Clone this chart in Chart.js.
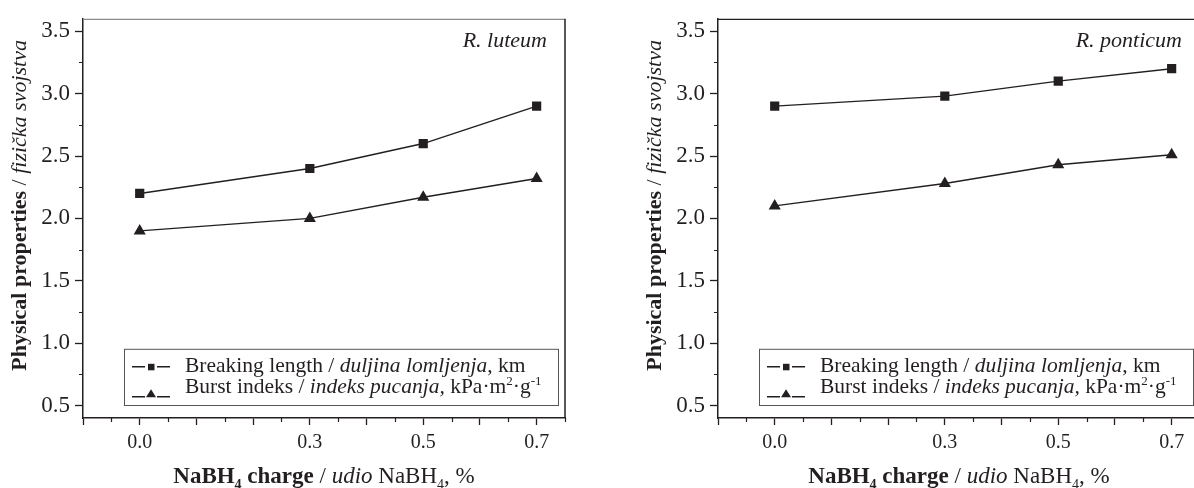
<!DOCTYPE html>
<html lang="en">
<head>
<meta charset="UTF-8">
<title>NaBH4 charge / physical properties</title>
<script src="https://cdn.jsdelivr.net/npm/chart.js"></script>
<style>
    html, body { margin: 0; padding: 0; background: #fff; overflow: hidden; }
    body { width: 1194px; height: 488px; position: relative; }
    .panel { position: absolute; top: 0; width: 600px; height: 488px; }
    #p1 { left: 0; }
    #p2 { left: 635px; }
</style>
</head>
<body>
<div class="panel" id="p1"><canvas id="luteumChart" width="600" height="488"></canvas></div>
<div class="panel" id="p2"><canvas id="ponticumChart" width="600" height="488"></canvas></div>
<script>
    // data
    const charge = [0.0, 0.3, 0.5, 0.7];
    const luteumBreaking = [2.2, 2.4, 2.6, 2.9];
    const luteumBurst = [1.9, 2.0, 2.17, 2.32];
    const ponticumBreaking = [2.9, 2.98, 3.1, 3.2];
    const ponticumBurst = [2.1, 2.28, 2.43, 2.51];

    // axis ticks
    const xMajorTicks = [-0.1, 0.0, 0.1, 0.2, 0.3, 0.4, 0.5, 0.6, 0.7];
    const xLabelled = [0.0, 0.3, 0.5, 0.7];
    const yMajorTicks = [0.5, 1.0, 1.5, 2.0, 2.5, 3.0, 3.5];

    const FONT = '"Liberation Serif", "Times New Roman", serif';
    const INK = '#231f20';

    function fontOf(p, size) {
        const s = (p.sub || p.sup) ? Math.round(size * 0.62) : size;
        return (p.i ? 'italic ' : '') + (p.b ? 'bold ' : '') + s + 'px ' + FONT;
    }

    // draws text made of several styled pieces
    function drawRich(ctx, parts, x, y, size, align) {
        let w = 0;
        parts.forEach(p => { ctx.font = fontOf(p, size); w += ctx.measureText(p.t).width; });
        let cx = align === 'center' ? x - w / 2 : x;
        ctx.textAlign = 'left';
        parts.forEach(p => {
            ctx.font = fontOf(p, size);
            const dy = p.sub ? size * 0.28 : (p.sup ? -size * 0.36 : 0);
            ctx.fillText(p.t, cx, y + dy);
            cx += ctx.measureText(p.t).width;
        });
    }

    function midpoints(arr) {
        const out = [];
        for (let i = 0; i < arr.length - 1; i++) out.push((arr[i] + arr[i + 1]) / 2);
        return out;
    }

    const legendRows = [
        [{t: 'Breaking length / '}, {t: 'duljina lomljenja', i: 1}, {t: ', km'}],
        [{t: 'Burst indeks / '}, {t: 'indeks pucanja,', i: 1}, {t: ' kPa\u00b7m'}, {t: '2', sup: 1}, {t: '\u00b7g'}, {t: '-1', sup: 1}]
    ];
    const xTitle = [{t: 'NaBH', b: 1}, {t: '4', b: 1, sub: 1}, {t: ' charge', b: 1}, {t: ' / '}, {t: 'udio', i: 1}, {t: ' NaBH'}, {t: '4', sub: 1}, {t: ', %'}];
    const yTitle = [{t: 'Physical properties', b: 1}, {t: ' / '}, {t: 'fizi\u010dka svojstva', i: 1}];

    const decorPlugin = {
        id: 'decor',
        afterDraw(chart, args, opts) {
            const ctx = chart.ctx;
            const a = chart.chartArea;
            const xs = chart.scales.x, ys = chart.scales.y;
            ctx.save();

            // top and right frame
            ctx.strokeStyle = opts.topColor || INK;
            ctx.lineWidth = 1.2;
            ctx.beginPath();
            ctx.moveTo(a.left, a.top + 0.5);
            ctx.lineTo(a.right, a.top + 0.5);
            ctx.stroke();
            ctx.strokeStyle = INK;
            ctx.lineWidth = 1.5;
            ctx.beginPath();
            ctx.moveTo(a.right, a.top);
            ctx.lineTo(a.right, a.bottom);
            ctx.stroke();

            // minor ticks
            ctx.lineWidth = 1.2;
            ctx.beginPath();
            midpoints(xMajorTicks).concat([0.75]).forEach(v => {
                const px = Math.round(xs.getPixelForValue(v)) + 0.5;
                ctx.moveTo(px, a.bottom);
                ctx.lineTo(px, a.bottom + 4);
            });
            midpoints(yMajorTicks).forEach(v => {
                const py = Math.round(ys.getPixelForValue(v)) + 0.5;
                ctx.moveTo(a.left, py);
                ctx.lineTo(a.left - 4, py);
            });
            ctx.stroke();

            ctx.fillStyle = INK;
            ctx.textBaseline = 'alphabetic';

            // species label
            ctx.font = 'italic 22px ' + FONT;
            ctx.textAlign = 'right';
            ctx.fillText(opts.species, a.right - 18, a.top + 28);

            // legend box
            const bx = a.left + 41, by = a.top + 330;
            const bw = a.right - 7 - bx, bh = a.bottom - 13 - by;
            ctx.strokeStyle = '#555';
            ctx.lineWidth = 1;
            ctx.strokeRect(bx + 0.5, by + 0.5, bw, bh);

            const rowBase = [by + 23, by + 44];
            legendRows.forEach((row, i) => {
                const sy = i === 0 ? rowBase[i] - 5 : rowBase[i] + 1;
                ctx.strokeStyle = INK;
                ctx.lineWidth = 1.4;
                ctx.beginPath();
                ctx.moveTo(a.left + 49, sy + (i ? 3 : 0));
                ctx.lineTo(a.left + 62, sy + (i ? 3 : 0));
                ctx.moveTo(a.left + 74, sy + (i ? 3 : 0));
                ctx.lineTo(a.left + 87, sy + (i ? 3 : 0));
                ctx.stroke();
                ctx.beginPath();
                if (i === 0) {
                    ctx.rect(a.left + 65, sy - 3, 6.5, 6.5);
                } else {
                    ctx.moveTo(a.left + 68, sy - 4.5);
                    ctx.lineTo(a.left + 73, sy + 3.5);
                    ctx.lineTo(a.left + 63, sy + 3.5);
                    ctx.closePath();
                }
                ctx.fill();
                drawRich(ctx, row, a.left + 102, rowBase[i], 21.5, 'left');
            });

            // axis titles
            drawRich(ctx, xTitle, (a.left + a.right) / 2, 483, 23, 'center');
            ctx.save();
            ctx.translate(20, (a.top + a.bottom) / 2 - 13);
            ctx.rotate(-Math.PI / 2);
            ctx.textBaseline = 'middle';
            drawRich(ctx, yTitle, 0, 0, 22, 'center');
            ctx.restore();

            ctx.restore();
        }
    };

    function makePanel(canvasId, breaking, burst, species, topColor) {
        const toPoints = arr => charge.map((c, i) => ({x: c, y: arr[i]}));
        return new Chart(document.getElementById(canvasId), {
            type: 'line',
            data: {
                datasets: [{
                    label: 'Breaking length / duljina lomljenja, km',
                    data: toPoints(breaking),
                    borderColor: INK,
                    backgroundColor: INK,
                    borderWidth: 1.4,
                    pointStyle: 'rect',
                    pointRadius: 6.5,
                    pointBorderWidth: 0,
                    tension: 0
                }, {
                    label: 'Burst indeks / indeks pucanja, kPa·m²·g⁻¹',
                    data: toPoints(burst),
                    borderColor: INK,
                    backgroundColor: INK,
                    borderWidth: 1.4,
                    pointStyle: 'triangle',
                    pointRadius: 7,
                    pointBorderWidth: 0,
                    tension: 0
                }]
            },
            options: {
                responsive: false,
                animation: false,
                devicePixelRatio: 1,
                layout: { padding: { top: 14, right: 35, left: 0, bottom: 0 } },
                plugins: {
                    legend: { display: false },
                    tooltip: { enabled: false },
                    decor: { species: species, topColor: topColor }
                },
                scales: {
                    x: {
                        type: 'linear',
                        min: -0.1,
                        max: 0.75,
                        afterBuildTicks: s => { s.ticks = xMajorTicks.map(v => ({value: v})); },
                        afterFit: s => { s.height = 70; },
                        ticks: {
                            autoSkip: false,
                            maxRotation: 0,
                            padding: 6,
                            color: INK,
                            font: { family: FONT, size: 20 },
                            callback: v => xLabelled.some(l => Math.abs(l - v) < 1e-6) ? v.toFixed(1) : ''
                        },
                        grid: { drawOnChartArea: false, drawTicks: true, tickLength: 7, tickColor: INK, tickWidth: 1.3 },
                        border: { display: true, color: INK, width: 1.5 }
                    },
                    y: {
                        min: 0.4,
                        max: 3.6,
                        afterBuildTicks: s => { s.ticks = yMajorTicks.map(v => ({value: v})); },
                        afterFit: s => { s.width = 83; },
                        ticks: {
                            padding: 5,
                            color: INK,
                            font: { family: FONT, size: 23 },
                            callback: v => v.toFixed(1)
                        },
                        grid: { drawOnChartArea: false, drawTicks: true, tickLength: 8, tickColor: INK, tickWidth: 1.3 },
                        border: { display: true, color: INK, width: 1.5 }
                    }
                }
            },
            plugins: [decorPlugin]
        });
    }

    makePanel('luteumChart', luteumBreaking, luteumBurst, 'R. luteum', '#8a8a8a');
    makePanel('ponticumChart', ponticumBreaking, ponticumBurst, 'R. ponticum', INK);
</script>
</body>
</html>
